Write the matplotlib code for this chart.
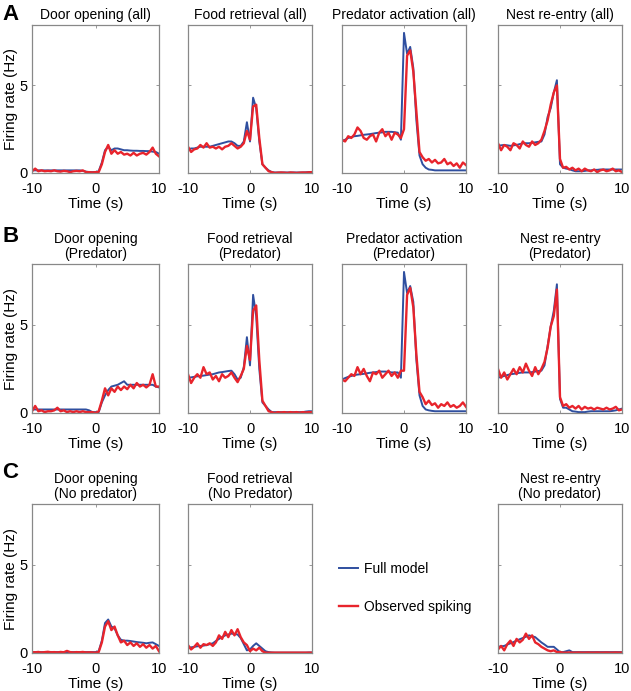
import numpy as np
import matplotlib
matplotlib.use('Agg')
import matplotlib.pyplot as plt
from matplotlib.lines import Line2D

plt.rcParams['font.family'] = ['Liberation Sans', 'DejaVu Sans']
plt.rcParams['font.size'] = 9.8
plt.rcParams['axes.unicode_minus'] = False

# time axis, 0.5 s bins
t = np.arange(-10, 10.01, 0.5)

# ---- row A: all trials ----
door_all_model = [0.15, 0.15, 0.15, 0.15, 0.15, 0.15, 0.15, 0.15, 0.15, 0.15,
                  0.15, 0.15, 0.15, 0.15, 0.15, 0.15, 0.12, 0.08, 0.05, 0.05,
                  0.05, 0.1, 0.6, 1.3, 1.5, 1.3, 1.4, 1.4, 1.35, 1.3,
                  1.3, 1.28, 1.27, 1.27, 1.26, 1.26, 1.25, 1.25, 1.22, 1.2, 1.1]
door_all_obs = [0.1, 0.25, 0.1, 0.15, 0.1, 0.12, 0.1, 0.15, 0.1, 0.08,
                0.12, 0.1, 0.05, 0.1, 0.12, 0.1, 0.15, 0.05, 0.05, 0.03,
                0.05, 0.05, 0.5, 1.2, 1.6, 1.1, 1.3, 1.1, 1.2, 1.05,
                1.1, 1.0, 1.15, 1.0, 1.1, 1.15, 1.05, 1.2, 1.45, 1.1, 0.95]

food_all_model = [1.35, 1.4, 1.4, 1.45, 1.5, 1.5, 1.5, 1.5, 1.55, 1.6,
                  1.65, 1.7, 1.75, 1.8, 1.8, 1.7, 1.55, 1.55, 1.8, 2.9,
                  1.8, 4.3, 3.7, 1.8, 0.5, 0.3, 0.15, 0.05, 0.03, 0.03,
                  0.03, 0.03, 0.03, 0.03, 0.03, 0.03, 0.03, 0.03, 0.04, 0.05, 0.06]
food_all_obs = [1.5, 1.2, 1.35, 1.4, 1.6, 1.45, 1.7, 1.45, 1.5, 1.4,
                1.5, 1.35, 1.5, 1.55, 1.7, 1.55, 1.4, 1.5, 1.7, 2.4,
                1.9, 3.8, 3.9, 2.0, 0.5, 0.3, 0.1, 0.05, 0.0, 0.02,
                0.03, 0.02, 0.0, 0.03, 0.02, 0.0, 0.02, 0.03, 0.02, 0.04, 0.05]

pred_all_model = [1.8, 1.9, 2.0, 2.05, 2.1, 2.12, 2.15, 2.18, 2.2, 2.22,
                  2.25, 2.28, 2.3, 2.32, 2.35, 2.35, 2.35, 2.33, 2.3, 1.9,
                  8.0, 6.8, 7.2, 6.0, 3.0, 1.0, 0.5, 0.3, 0.2, 0.18,
                  0.15, 0.15, 0.15, 0.15, 0.15, 0.15, 0.15, 0.15, 0.15, 0.15, 0.15]
pred_all_obs = [1.9, 1.8, 2.1, 2.0, 2.2, 2.6, 2.4, 2.0, 1.9, 2.1,
                2.2, 1.8, 2.3, 2.5, 2.1, 2.3, 1.9, 2.3, 2.2, 2.0,
                2.5, 6.7, 7.0, 5.8, 3.5, 1.2, 0.9, 0.7, 0.8, 0.6,
                0.75, 0.55, 0.6, 0.8, 0.5, 0.6, 0.4, 0.55, 0.3, 0.6, 0.45]

nest_all_model = [1.55, 1.58, 1.6, 1.58, 1.55, 1.58, 1.6, 1.65, 1.7, 1.7,
                  1.7, 1.72, 1.75, 1.78, 1.8, 2.2, 3.2, 3.7, 4.6, 5.3,
                  0.5, 0.3, 0.25, 0.22, 0.15, 0.1, 0.1, 0.1, 0.12, 0.15,
                  0.15, 0.18, 0.18, 0.2, 0.2, 0.2, 0.2, 0.2, 0.2, 0.2, 0.2]
nest_all_obs = [1.7, 1.3, 1.6, 1.5, 1.3, 1.7, 1.6, 1.4, 1.8, 1.6,
                1.5, 1.8, 1.6, 1.7, 1.9, 2.4, 3.0, 3.9, 4.6, 5.0,
                0.8, 0.3, 0.35, 0.2, 0.3, 0.15, 0.25, 0.1, 0.25, 0.15,
                0.1, 0.2, 0.05, 0.15, 0.2, 0.1, 0.15, 0.25, 0.1, 0.15, 0.05]

# ---- row B: predator trials ----
door_pred_model = [0.2, 0.2, 0.2, 0.2, 0.2, 0.2, 0.2, 0.2, 0.2, 0.2,
                   0.2, 0.2, 0.2, 0.2, 0.2, 0.2, 0.2, 0.2, 0.15, 0.05,
                   0.05, 0.05, 0.6, 1.0, 1.3, 1.5, 1.55, 1.6, 1.7, 1.8,
                   1.6, 1.6, 1.6, 1.6, 1.6, 1.6, 1.6, 1.6, 1.6, 1.5, 1.45]
door_pred_obs = [0.1, 0.4, 0.1, 0.15, 0.05, 0.1, 0.1, 0.15, 0.3, 0.1,
                 0.15, 0.05, 0.1, 0.05, 0.1, 0.05, 0.1, 0.05, 0.05, 0.05,
                 0.0, 0.1, 0.7, 1.4, 1.0, 1.4, 1.2, 1.5, 1.3, 1.5,
                 1.35, 1.6, 1.4, 1.7, 1.5, 1.6, 1.45, 1.6, 2.2, 1.5, 1.5]

food_pred_model = [2.0, 2.02, 2.05, 2.08, 2.1, 2.12, 2.15, 2.18, 2.2, 2.25,
                   2.3, 2.32, 2.35, 2.38, 2.4, 2.2, 1.9, 2.0, 2.6, 4.3,
                   2.7, 6.7, 5.5, 2.5, 0.6, 0.4, 0.2, 0.05, 0.05, 0.05,
                   0.05, 0.05, 0.05, 0.05, 0.05, 0.05, 0.05, 0.05, 0.08, 0.1, 0.1]
food_pred_obs = [2.2, 1.7, 2.0, 2.2, 2.0, 2.6, 2.2, 2.3, 1.9, 2.1,
                 1.8, 2.2, 2.0, 2.1, 2.3, 2.0, 1.75, 2.1, 2.5, 3.8,
                 3.0, 5.8, 6.1, 3.0, 0.7, 0.4, 0.1, 0.05, 0.0, 0.05,
                 0.03, 0.05, 0.02, 0.05, 0.03, 0.05, 0.02, 0.05, 0.03, 0.05, 0.05]

pred_pred_model = [1.9, 1.98, 2.05, 2.1, 2.15, 2.18, 2.2, 2.22, 2.25, 2.28,
                   2.3, 2.32, 2.35, 2.35, 2.35, 2.33, 2.3, 2.3, 2.3, 2.0,
                   8.0, 6.8, 7.2, 6.3, 3.0, 1.0, 0.4, 0.2, 0.15, 0.12,
                   0.1, 0.1, 0.1, 0.1, 0.1, 0.1, 0.1, 0.1, 0.1, 0.1, 0.1]
pred_pred_obs = [1.9, 1.8, 2.0, 2.2, 2.1, 2.6, 2.2, 2.5, 2.1, 1.8,
                 2.3, 2.2, 2.4, 2.0, 2.2, 2.4, 2.1, 2.3, 2.0, 2.4,
                 2.4, 6.7, 7.1, 6.0, 3.3, 1.2, 0.9, 0.5, 0.7, 0.45,
                 0.55, 0.3, 0.5, 0.4, 0.6, 0.35, 0.45, 0.3, 0.4, 0.6, 0.35]

nest_pred_model = [2.0, 2.05, 2.1, 2.15, 2.2, 2.22, 2.25, 2.28, 2.3, 2.3,
                   2.3, 2.32, 2.35, 2.38, 2.4, 2.7, 3.8, 4.9, 5.8, 7.3,
                   0.8, 0.3, 0.3, 0.2, 0.1, 0.08, 0.05, 0.05, 0.05, 0.08,
                   0.1, 0.1, 0.1, 0.1, 0.1, 0.1, 0.1, 0.12, 0.15, 0.2, 0.25]
nest_pred_obs = [2.5, 2.0, 2.3, 1.9, 2.2, 2.5, 2.2, 2.6, 2.3, 2.8,
                 2.4, 2.1, 2.6, 2.2, 2.5, 2.9, 3.7, 4.9, 5.5, 7.0,
                 0.9, 0.4, 0.5, 0.3, 0.4, 0.25, 0.4, 0.2, 0.35, 0.25,
                 0.3, 0.2, 0.3, 0.25, 0.2, 0.3, 0.2, 0.25, 0.35, 0.15, 0.2]

# ---- row C: no-predator trials ----
door_nopred_model = [0.05, 0.05, 0.05, 0.05, 0.05, 0.05, 0.05, 0.05, 0.05, 0.05,
                     0.05, 0.05, 0.05, 0.05, 0.05, 0.05, 0.05, 0.05, 0.05, 0.05,
                     0.05, 0.1, 0.7, 1.7, 1.9, 1.5, 1.4, 1.0, 0.75, 0.7,
                     0.7, 0.68, 0.65, 0.62, 0.6, 0.58, 0.55, 0.58, 0.6, 0.5, 0.4]
door_nopred_obs = [0.05, 0.04, 0.06, 0.03, 0.05, 0.07, 0.04, 0.05, 0.03, 0.06,
                   0.04, 0.12, 0.05, 0.03, 0.05, 0.04, 0.06, 0.03, 0.04, 0.03,
                   0.02, 0.05, 0.6, 1.5, 1.8, 1.3, 1.5, 1.0, 0.6, 0.7,
                   0.45, 0.6, 0.4, 0.55, 0.35, 0.5, 0.3, 0.45, 0.25, 0.4, 0.1]

food_nopred_model = [0.3, 0.32, 0.35, 0.38, 0.4, 0.42, 0.45, 0.5, 0.55, 0.68,
                     0.8, 0.9, 1.0, 1.05, 1.1, 1.08, 1.05, 0.85, 0.5, 0.15,
                     0.2, 0.4, 0.55, 0.4, 0.25, 0.1, 0.05, 0.03, 0.02, 0.02,
                     0.02, 0.02, 0.02, 0.02, 0.02, 0.02, 0.02, 0.02, 0.02, 0.03, 0.03]
food_nopred_obs = [0.45, 0.2, 0.35, 0.55, 0.3, 0.5, 0.45, 0.55, 0.4, 0.6,
                   1.0, 0.8, 1.2, 0.9, 1.3, 1.0, 1.35, 0.9, 0.6, 0.45,
                   0.1, 0.25, 0.15, 0.3, 0.1, 0.02, 0.02, 0.02, 0.02, 0.02,
                   0.02, 0.02, 0.02, 0.02, 0.02, 0.02, 0.02, 0.02, 0.02, 0.02, 0.02]

nest_nopred_model = [0.35, 0.38, 0.4, 0.48, 0.55, 0.62, 0.7, 0.78, 0.85, 0.92,
                     1.0, 0.95, 0.9, 0.75, 0.6, 0.48, 0.35, 0.35, 0.35, 0.2,
                     0.05, 0.05, 0.1, 0.15, 0.05, 0.05, 0.05, 0.05, 0.05, 0.05,
                     0.05, 0.05, 0.05, 0.05, 0.05, 0.05, 0.05, 0.05, 0.05, 0.05, 0.05]
nest_nopred_obs = [0.2, 0.4, 0.15, 0.5, 0.7, 0.4, 0.8, 0.6, 0.75, 1.1,
                   0.8, 1.0, 0.6, 0.5, 0.35, 0.25, 0.15, 0.1, 0.15, 0.05,
                   0.05, 0.02, 0.02, 0.03, 0.02, 0.02, 0.03, 0.02, 0.02, 0.03,
                   0.02, 0.02, 0.03, 0.02, 0.02, 0.03, 0.02, 0.02, 0.03, 0.02, 0.03]

titles = [
    ['Door opening (all)', 'Food retrieval (all)', 'Predator activation (all)', 'Nest re-entry (all)'],
    ['Door opening\n(Predator)', 'Food retrieval\n(Predator)', 'Predator activation\n(Predator)', 'Nest re-entry\n(Predator)'],
    ['Door opening\n(No predator)', 'Food retrieval\n(No Predator)', None, 'Nest re-entry\n(No predator)'],
]
series = [
    [(door_all_model, door_all_obs), (food_all_model, food_all_obs),
     (pred_all_model, pred_all_obs), (nest_all_model, nest_all_obs)],
    [(door_pred_model, door_pred_obs), (food_pred_model, food_pred_obs),
     (pred_pred_model, pred_pred_obs), (nest_pred_model, nest_pred_obs)],
    [(door_nopred_model, door_nopred_obs), (food_nopred_model, food_nopred_obs),
     None, (nest_nopred_model, nest_nopred_obs)],
]
row_labels = ['A', 'B', 'C']

BLUE = '#2f4f9f'
RED = '#e8242c'
W, H = 631, 691
col_x = [(32, 159), (188, 312), (342, 466), (498, 622)]
row_y = [(25, 173), (264, 413), (504, 653)]
label_y = [14, 236, 472]

fig = plt.figure(figsize=(W / 100, H / 100), dpi=100)

for r in range(3):
    y0, y1 = row_y[r]
    for c in range(4):
        if series[r][c] is None:
            continue
        x0, x1 = col_x[c]
        ax = fig.add_axes([x0 / W, 1 - y1 / H, (x1 - x0) / W, (y1 - y0) / H])
        model, obs = series[r][c]
        ax.plot(t, model, color=BLUE, lw=1.4)
        ax.plot(t, obs, color=RED, lw=1.7)
        ax.set_xlim(-10, 10)
        ax.set_ylim(0, 8.45)
        ax.set_xticks([-10, 0, 10])
        ax.set_yticks([0, 5])
        ax.tick_params(direction='in', length=2.5, width=0.6, color='#888888',
                       top=True, right=True, labelsize=10.5)
        ax.tick_params(axis='x', pad=6.5)
        ax.tick_params(axis='y', pad=3)
        for sp in ax.spines.values():
            sp.set_color('#888888')
            sp.set_linewidth(0.9)
        ax.set_xlabel('Time (s)', fontsize=11, labelpad=1)
        if c == 0:
            ax.set_ylabel('Firing rate (Hz)', fontsize=11, labelpad=1)
        else:
            ax.set_yticklabels([])
        ax.set_title(titles[r][c], fontsize=10, pad=4, linespacing=1.1)
    fig.text(2 / W, 1 - label_y[r] / H, row_labels[r], fontsize=16,
             fontweight='bold', va='center', ha='left')

handles = [Line2D([], [], color=BLUE, lw=1.4), Line2D([], [], color=RED, lw=1.7)]
fig.legend(handles, ['Full model', 'Observed spiking'], loc='center left',
           bbox_to_anchor=(326 / W, 1 - 588 / H), frameon=False, fontsize=10,
           handlelength=1.4, handletextpad=0.4, labelspacing=1.75)

plt.savefig('out.png', dpi=100)
